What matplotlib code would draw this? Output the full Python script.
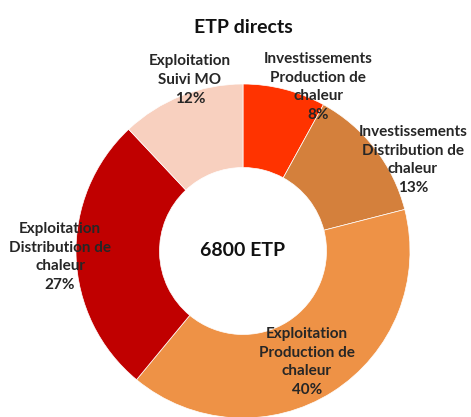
import matplotlib.pyplot as plt

# donnees
categories = ['Investissements\nProduction de\nchaleur',
              'Investissements\nDistribution de\nchaleur',
              'Exploitation\nProduction de\nchaleur',
              'Exploitation\nDistribution de\nchaleur',
              'Exploitation\nSuivi MO']
parts = [8, 13, 40, 27, 12]
colors = ['#FF3300', '#D4803C', '#EE9246', '#C00000', '#F8D0BF']
total_label = '6800 ETP'
title = 'ETP directs'

W, H = 471, 417
fig = plt.figure(figsize=(W / 100, H / 100), dpi=100)
ax = fig.add_axes([0, 0, 1, 1])

# pie en coordonnees pixels (y vers le haut)
cx, cy, r = 243, H - 251, 167
ax.pie(parts, colors=colors, startangle=90, counterclock=False,
       radius=r, center=(cx, cy),
       wedgeprops=dict(width=r * 0.5, edgecolor='white', linewidth=0.5))
ax.set_xlim(0, W)
ax.set_ylim(0, H)
ax.set_aspect('equal')
ax.axis('off')

font = 'Lato'
# positions des etiquettes (centre du bloc de texte, en pixels)
label_pos = [(318, 87), (413, 160), (307, 362), (60, 257), (190, 80)]
for cat, p, (x, y) in zip(categories, parts, label_pos):
    ax.text(x, H - y, f'{cat}\n{p}%', ha='center', va='center',
            fontsize=11, fontweight='bold', family=font, color='#262626',
            linespacing=1.45)

ax.text(cx, cy, total_label, ha='center', va='center', fontsize=14,
        fontweight='bold', family=font, color='#111111')
ax.text(243, H - 27, title, ha='center', va='center', fontsize=14,
        fontweight='bold', family=font, color='#111111')

fig.savefig('out.png', dpi=100)
